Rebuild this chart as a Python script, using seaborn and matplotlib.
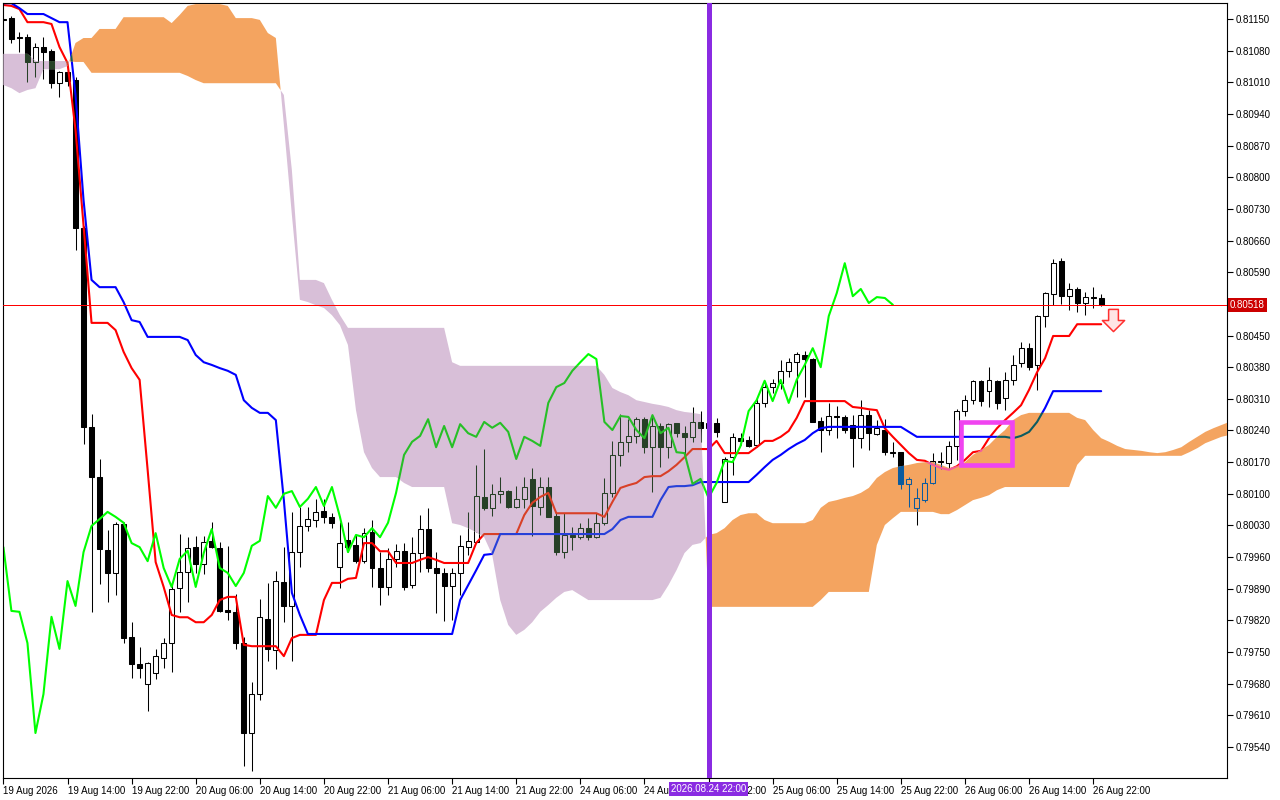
import numpy as np
import matplotlib
matplotlib.use("Agg")
import matplotlib.pyplot as plt
import seaborn as sns
from matplotlib.path import Path
from matplotlib.patches import Rectangle

# H1 bars, prices in points (1e-5)
opens = [81150, 81152, 81110, 81110, 81055, 81088, 81079, 81008, 81033, 81015,
         80688, 80248, 80137, 79976, 79925, 80033, 79783, 79724, 79679, 79704,
         79737, 79770, 79892, 79927, 79982, 79945, 79996, 79980, 79843, 79839,
         79770, 79571, 79657, 79823, 79755, 79905, 79852, 79971, 80029, 80042,
         80062, 80049, 79938, 79998, 79987, 79951, 80016, 79936, 79894, 79956,
         79974, 79898, 79969, 80022, 79936, 79925, 79896, 79925, 79982, 79993,
         80093, 80069, 80100, 80106, 80071, 80089, 80133, 80071, 80115, 80051,
         79971, 80009, 80004, 80024, 80004, 80036, 80102, 80186, 80215, 80228,
         80265, 80203, 80250, 80203, 80257, 80234, 80226, 80259, 80246, 80257,
         80082, 80181, 80223, 80219, 80208, 80301, 80336, 80345, 80372, 80391,
         80407, 80398, 80261, 80241, 80272, 80270, 80252, 80223, 80274, 80232,
         80241, 80192, 80192, 80122, 80069, 80086, 80124, 80173, 80168, 80206,
         80283, 80307, 80350, 80327, 80350, 80312, 80352, 80389, 80422, 80385,
         80493, 80542, 80615, 80537, 80553, 80522, 80535, 80533]
highs = [81154, 81157, 81121, 81117, 81097, 81110, 81084, 81035, 81044, 81022,
         80692, 80276, 80177, 80020, 80038, 80038, 79816, 79761, 79728, 79757,
         79781, 79905, 80011, 80004, 80007, 80007, 80038, 79993, 79985, 79878,
         79783, 79684, 79867, 79903, 79929, 79982, 80060, 80071, 80071, 80089,
         80089, 80058, 80038, 80038, 80009, 80024, 80042, 79971, 79980, 79989,
         79991, 80004, 80053, 80069, 79971, 79936, 79936, 80009, 80060, 80164,
         80199, 80122, 80137, 80108, 80117, 80137, 80157, 80137, 80137, 80058,
         80058, 80027, 80036, 80047, 80058, 80135, 80217, 80276, 80265, 80270,
         80270, 80270, 80257, 80257, 80257, 80250, 80292, 80283, 80270, 80268,
         80181, 80234, 80234, 80228, 80314, 80350, 80354, 80396, 80400, 80414,
         80416, 80400, 80270, 80301, 80294, 80274, 80274, 80307, 80285, 80263,
         80265, 80215, 80192, 80137, 80113, 80135, 80190, 80192, 80217, 80287,
         80318, 80352, 80352, 80380, 80352, 80369, 80407, 80436, 80433, 80496,
         80546, 80619, 80621, 80566, 80557, 80546, 80557, 80542]
lows = [81145, 81097, 81077, 81011, 81022, 81017, 80997, 80977, 81002, 80639,
        80210, 79839, 79901, 79861, 79876, 79770, 79693, 79693, 79620, 79690,
        79715, 79706, 79839, 79861, 79925, 79923, 79980, 79839, 79821, 79757,
        79498, 79487, 79644, 79730, 79713, 79816, 79730, 79938, 80018, 80027,
        80036, 80025, 79892, 79971, 79947, 79947, 79894, 79854, 79876, 79938,
        79887, 79892, 79927, 79927, 79836, 79819, 79821, 79876, 79965, 79993,
        80064, 80051, 80080, 80069, 80069, 80069, 80007, 80053, 80049, 79965,
        79958, 79976, 80000, 79998, 80002, 80031, 80093, 80161, 80192, 80212,
        80190, 80104, 80159, 80179, 80226, 80186, 80215, 80215, 80230, 80226,
        80082, 80142, 80208, 80203, 80203, 80292, 80323, 80332, 80358, 80314,
        80314, 80259, 80192, 80230, 80223, 80234, 80159, 80201, 80197, 80230,
        80186, 80181, 80111, 80071, 80031, 80082, 80122, 80155, 80157, 80175,
        80272, 80299, 80294, 80292, 80288, 80285, 80341, 80380, 80374, 80330,
        80469, 80518, 80520, 80507, 80502, 80495, 80511, 80515]
closes = [81148, 81106, 81108, 81055, 81088, 81077, 81008, 81033, 81013, 80688,
          80248, 80137, 79978, 79925, 80033, 79781, 79724, 79715, 79726, 79741,
          79770, 79889, 79927, 79980, 79945, 79993, 79982, 79841, 79839, 79770,
          79571, 79657, 79828, 79757, 79907, 79852, 79971, 80029, 80044, 80060,
          80049, 80036, 79991, 79982, 79951, 80013, 79936, 79894, 79956, 79974,
          79894, 79969, 80022, 79936, 79925, 79896, 79925, 79985, 79996, 80095,
          80069, 80100, 80106, 80071, 80089, 80115, 80073, 80115, 80049, 79971,
          80009, 80004, 80024, 80004, 80036, 80102, 80186, 80215, 80228, 80265,
          80203, 80250, 80203, 80254, 80234, 80226, 80259, 80246, 80257, 80237,
          80177, 80226, 80217, 80206, 80301, 80336, 80345, 80372, 80391, 80409,
          80398, 80259, 80241, 80272, 80270, 80241, 80223, 80274, 80234, 80246,
          80192, 80190, 80122, 80133, 80091, 80124, 80173, 80170, 80206, 80283,
          80307, 80350, 80305, 80352, 80301, 80352, 80385, 80422, 80380, 80493,
          80544, 80610, 80537, 80553, 80522, 80535, 80533, 80518]

tenkan = [81181, 81179, 81172, 81143, 81143, 81143, 81139, 81088, 81053, 80905,
          80694, 80478, 80478, 80478, 80462, 80414, 80378, 80352, 80153, 79949,
          79894, 79832, 79827, 79827, 79816, 79816, 79832, 79865, 79872, 79872,
          79766, 79763, 79763, 79763, 79763, 79741, 79781, 79788, 79788, 79788,
          79865, 79903, 79903, 79912, 79914, 79991, 79991, 79973, 79973, 79947,
          79947, 79947, 79954, 79960, 79954, 79947, 79947, 79947, 79947, 79991,
          80011, 80011, 80011, 80011, 80011, 80053, 80080, 80093, 80102, 80057,
          80057, 80057, 80057, 80057, 80057, 80049, 80082, 80113, 80119, 80124,
          80137, 80139, 80139, 80150, 80164, 80181, 80199, 80199, 80199, 80217,
          80190, 80190, 80190, 80190, 80203, 80217, 80217, 80226, 80239, 80268,
          80305, 80305, 80305, 80305, 80305, 80305, 80292, 80290, 80287, 80285,
          80245, 80226, 80208, 80190, 80175, 80173, 80164, 80157, 80153, 80161,
          80175, 80192, 80195, 80223, 80245, 80263, 80279, 80296, 80330, 80369,
          80400, 80449, 80449, 80449, 80475, 80475, 80475, 80475]
kijun = [81185, 81185, 81174, 81161, 81161, 81161, 81152, 81143, 81143, 80982,
         80750, 80573, 80557, 80557, 80557, 80524, 80484, 80480, 80447, 80447,
         80447, 80447, 80447, 80440, 80407, 80391, 80385, 80378, 80372, 80363,
         80307, 80290, 80279, 80279, 80263, 80086, 79881, 79832, 79790, 79790,
         79790, 79790, 79790, 79790, 79790, 79790, 79790, 79790, 79790, 79790,
         79790, 79790, 79790, 79790, 79790, 79790, 79790, 79865, 79898, 79931,
         79965, 79967, 80011, 80011, 80011, 80011, 80011, 80011, 80011, 80011,
         80011, 80011, 80011, 80011, 80011, 80011, 80022, 80042, 80049, 80049,
         80049, 80049, 80086, 80115, 80117, 80117, 80119, 80126, 80126, 80126,
         80126, 80126, 80126, 80126, 80142, 80159, 80175, 80186, 80199, 80210,
         80219, 80234, 80245, 80248, 80248, 80248, 80248, 80248, 80248, 80248,
         80248, 80248, 80248, 80237, 80226, 80226, 80226, 80226, 80226, 80226,
         80226, 80226, 80226, 80226, 80226, 80226, 80223, 80228, 80237, 80259,
         80290, 80327, 80327, 80327, 80327, 80327, 80327, 80327]
# cloud, already shifted 26 bars forward
span_a = [81004, 80997, 80986, 80993, 80997, 81039, 81039, 81039, 81046, 81097,
          81108, 81108, 81128, 81128, 81128, 81154, 81154, 81154, 81154, 81154,
          81154, 81141, 81159, 81179, 81183, 81183, 81183, 81183, 81179, 81152,
          81152, 81152, 81148, 81119, 81108, 80916, 80717, 80529, 80524, 80517,
          80511, 80495, 80473, 80429, 80285, 80192, 80157, 80137, 80137, 80137,
          80124, 80115, 80115, 80115, 80115, 80115, 80035, 80031, 80024, 80015,
          80004, 79965, 79865, 79810, 79788, 79799, 79816, 79839, 79854, 79870,
          79883, 79887, 79876, 79865, 79865, 79865, 79865, 79865, 79865, 79865,
          79865, 79865, 79870, 79898, 79931, 79969, 79987, 79991, 80009, 80013,
          80024, 80042, 80053, 80057, 80057, 80042, 80035, 80035, 80035, 80035,
          80035, 80042, 80069, 80082, 80086, 80091, 80095, 80102, 80113, 80135,
          80148, 80157, 80161, 80164, 80168, 80170, 80170, 80164, 80157, 80161,
          80170, 80186, 80197, 80208, 80226, 80241, 80263, 80274, 80279, 80279,
          80279, 80279, 80279, 80279, 80268, 80263, 80241, 80223, 80215, 80206,
          80199, 80197, 80195, 80192, 80190, 80192, 80197, 80203, 80215, 80226,
          80237, 80245, 80252, 80259]
span_b = [81073, 81073, 81073, 81073, 81057, 81057, 81057, 81057, 81057, 81055,
          81055, 81031, 81031, 81031, 81031, 81031, 81031, 81031, 81031, 81031,
          81031, 81031, 81031, 81024, 81015, 81008, 81008, 81008, 81008, 81008,
          81008, 81008, 81008, 81008, 81008, 80982, 80816, 80573, 80573, 80573,
          80566, 80529, 80495, 80467, 80467, 80467, 80467, 80467, 80467, 80467,
          80467, 80467, 80467, 80467, 80467, 80467, 80391, 80383, 80383, 80383,
          80383, 80383, 80383, 80383, 80383, 80383, 80383, 80383, 80383, 80383,
          80383, 80383, 80383, 80383, 80383, 80363, 80334, 80325, 80318, 80307,
          80303, 80299, 80296, 80292, 80285, 80281, 80279, 80276, 79850, 79850,
          79850, 79850, 79850, 79850, 79850, 79850, 79850, 79850, 79850, 79850,
          79850, 79850, 79865, 79883, 79883, 79883, 79883, 79883, 79883, 79987,
          80031, 80046, 80060, 80060, 80060, 80060, 80060, 80055, 80055, 80064,
          80075, 80086, 80091, 80097, 80108, 80115, 80115, 80115, 80115, 80115,
          80115, 80115, 80115, 80115, 80164, 80184, 80184, 80184, 80184, 80184,
          80184, 80184, 80184, 80184, 80184, 80184, 80184, 80184, 80192, 80201,
          80212, 80219, 80226, 80230]

tick_bars = [0, 8, 16, 24, 32, 40, 48, 56, 64, 72, 80, 88, 96, 104, 112, 120, 128, 136]
tick_labels = ["19 Aug 2026", "19 Aug 14:00", "19 Aug 22:00", "20 Aug 06:00",
               "20 Aug 14:00", "20 Aug 22:00", "21 Aug 06:00", "21 Aug 14:00",
               "21 Aug 22:00", "24 Aug 06:00", "24 Aug 14:00", "24 Aug 22:00",
               "25 Aug 06:00", "25 Aug 14:00", "25 Aug 22:00", "26 Aug 06:00",
               "26 Aug 14:00", "26 Aug 22:00"]
price_ticks = [0.81150, 0.81080, 0.81010, 0.80940, 0.80870, 0.80800, 0.80730, 0.80660,
               0.80590, 0.80450, 0.80380, 0.80310, 0.80240, 0.80170, 0.80100, 0.80030,
               0.79960, 0.79890, 0.79820, 0.79750, 0.79680, 0.79610, 0.79540]
last_price = 0.80518
marker_bar = 88
marker_label = "2026.08.24 22:00"
box_bars = (119.5, 125.9)
box_prices = (0.80164, 0.80259)
arrow_bar, arrow_price = 138.5, 0.80484

pt = 1e-5
o = np.array(opens) * pt
h = np.array(highs) * pt
l = np.array(lows) * pt
c = np.array(closes) * pt
x = np.arange(len(o))
ten = np.array(tenkan) * pt
kij = np.array(kijun) * pt
chikou = c[26:]                      # close shifted 26 bars back
sa = np.array(span_a) * pt
sb = np.array(span_b) * pt
xc = np.arange(len(sa))

THISTLE = "#D8BFD8"
SANDY = "#F4A460"


def xor_on(color, cloud):
    # MT5 paints the cloud in xor mode, so whatever lies under it gets flipped
    a = int(color.lstrip("#"), 16)
    b = int(cloud.lstrip("#"), 16) ^ 0xFFFFFF
    return "#%06x" % (a ^ b)


def draw_layer(ax, pal, z):
    made = []
    up = c >= o
    made.append(ax.vlines(x, l, h, colors=pal["candle"], linewidth=0.75, zorder=z))
    faces = [pal["white"] if u else pal["candle"] for u in up]
    bars = ax.bar(x, np.abs(c - o), bottom=np.minimum(o, c), width=0.62, color=faces,
                  edgecolor=pal["candle"], linewidth=0.75, zorder=z + 0.1)
    made.extend(bars.patches)
    for xs, ys, key in [(x, ten, "tenkan"), (x, kij, "kijun"), (x[:len(chikou)], chikou, "chikou")]:
        sns.lineplot(x=xs, y=ys, ax=ax, color=pal[key], linewidth=1.5, estimator=None,
                     sort=False, zorder=z + 0.2, legend=False)
        made.append(ax.lines[-1])
    return made


sns.set_style("white")
plt.rcParams["font.family"] = ["Liberation Sans", "DejaVu Sans"]

fig = plt.figure(figsize=(12.8, 8), dpi=100)
ax = fig.add_axes([3 / 1280, 22 / 800, 1224 / 1280, 775 / 800])

base = {"candle": "#000000", "white": "#FFFFFF", "tenkan": "#FF0000",
        "kijun": "#0000FF", "chikou": "#00FF00"}
draw_layer(ax, base, 2)

# Kumo
bear = ax.fill_between(xc, sa, sb, where=sb > sa, interpolate=True, color=THISTLE,
                       linewidth=0, zorder=4)
bull = ax.fill_between(xc, sa, sb, where=sa >= sb, interpolate=True, color=SANDY,
                       linewidth=0, zorder=4)

for coll, cloud in [(bear, THISTLE), (bull, SANDY)]:
    paths = coll.get_paths()
    if not paths:
        continue
    clip = Path.make_compound_path(*paths)
    pal = {k: xor_on(v, cloud) for k, v in base.items()}
    for art in draw_layer(ax, pal, 5):
        art.set_clip_path(clip, ax.transData)

ax.axhline(last_price, color="#FF0000", linewidth=0.72, snap=True, zorder=7)
ax.axvline(marker_bar, color="#8A2BE2", linewidth=3.6, zorder=7)
ax.add_patch(Rectangle((box_bars[0], box_prices[0]), box_bars[1] - box_bars[0],
                       box_prices[1] - box_prices[0], fill=False, edgecolor="#F044F0",
                       linewidth=3.3, zorder=8))
# hollow sell arrow
arrow = Path([(-0.22, 0.5), (0.22, 0.5), (0.22, 0.0), (0.5, 0.0), (0.0, -0.5),
              (-0.5, 0.0), (-0.22, 0.0), (-0.22, 0.5)])
ax.plot([arrow_bar], [arrow_price], marker=arrow, markersize=16, markerfacecolor="#FFE4E4",
        markeredgecolor="#FF3030", markeredgewidth=1.1, linestyle="none", zorder=8)

ax.set_xlim(-0.05, 152.7)
ax.set_ylim(0.794715, 0.811854)
ax.yaxis.tick_right()
ax.set_yticks(price_ticks)
ax.set_yticklabels(["%.5f" % p for p in price_ticks])
ax.set_xticks(tick_bars)
ax.set_xticklabels(tick_labels)
for lab in ax.get_xticklabels():
    lab.set_ha("left")
ax.tick_params(axis="both", direction="out", length=4, width=0.8, colors="black",
               labelsize=7, pad=2)
ax.tick_params(axis="x", bottom=True)
ax.tick_params(axis="y", right=True, left=False)
for sp in ax.spines.values():
    sp.set_visible(True)
    sp.set_color("black")
    sp.set_linewidth(0.8)
ax.set_xlabel("")
ax.set_ylabel("")

ax.annotate("%.5f" % last_price, xy=(1, last_price), xycoords=("axes fraction", "data"),
            xytext=(2, 0), textcoords="offset points", ha="left", va="center",
            color="white", fontsize=7, annotation_clip=False, zorder=10,
            bbox=dict(boxstyle="square,pad=0.2", fc="#CC0000", ec="none"))
ax.annotate(marker_label, xy=(marker_bar, 0), xycoords=("data", "axes fraction"),
            xytext=(0, -7.6), textcoords="offset points", ha="center", va="center",
            color="white", fontsize=7, annotation_clip=False, zorder=10,
            bbox=dict(boxstyle="square,pad=0.2", fc="#8A2BE2", ec="none"))

fig.savefig("out.png", dpi=100)
